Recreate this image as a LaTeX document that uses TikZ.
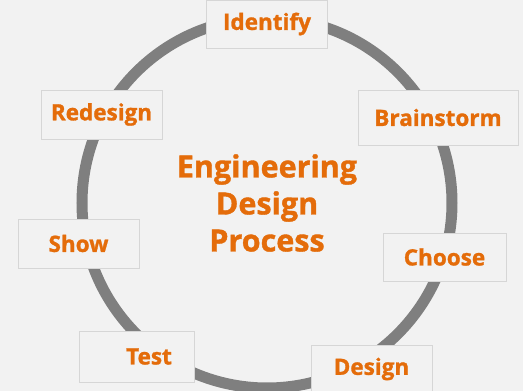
\documentclass[tikz,border=0pt]{standalone}
\usepackage{fontspec}
\setmainfont{Open Sans}[BoldFeatures={FakeBold=1.2}]
\usepackage{xcolor}
\usepackage{tikz}
\usetikzlibrary{positioning}
\definecolor{bgray}{HTML}{F2F2F2}
\definecolor{ringgray}{HTML}{7F7F7F}
\definecolor{boxline}{HTML}{D6D6D6}
\definecolor{stepgold}{HTML}{E46C0A}

\begin{document}
\begin{tikzpicture}[x=1pt, y=-1pt,
  every node/.style={font=\bfseries\fontsize{22.5}{26}\selectfont, text=stepgold},
  stepbox/.style={draw=boxline, fill=bgray, line width=0.8pt, inner sep=0pt, minimum width=121pt, minimum height=48pt}]
\useasboundingbox (0,0) rectangle (523,391);
\fill[bgray] (0,0) rectangle (523,391);

% Ring
\draw[ringgray, line width=11pt] (267,203) circle[radius=185pt];

% Title
\node[font=\bfseries\fontsize{30.5}{37}\selectfont, align=center] (title) at (267,203) {Engineering\\Design\\Process};

% Steps
\node[stepbox] (identify) at (267,24) {Identify};
\node[stepbox, minimum width=160pt, minimum height=55pt] (brainstorm) at (438,117.5) {Brainstorm};
\node[stepbox, minimum width=123pt] (choose) at (444.5,257) {Choose};
\node[stepbox] (design) at (371.5,369) {Design};
\node[stepbox, minimum width=115pt, minimum height=51pt] (test) at (136.5,356.5) {\hspace*{25pt}Test};
\node[stepbox, minimum height=49pt] (show) at (78.5,243.5) {Show};
\node[stepbox, minimum height=49pt] (redesign) at (101.5,114.5) {Redesign};
\end{tikzpicture}
\end{document}
